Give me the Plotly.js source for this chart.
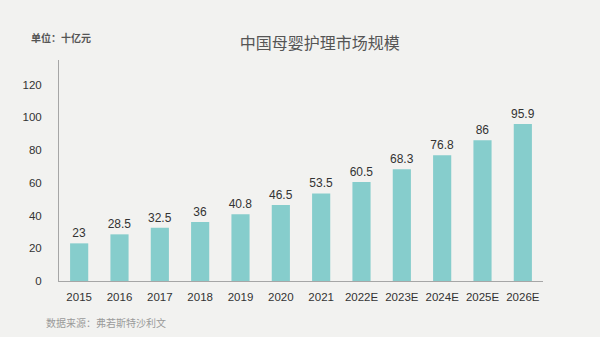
<!DOCTYPE html>
<html>
<head>
<meta charset="utf-8">
<script src="https://cdn.plot.ly/plotly-3.0.1.min.js"></script>
<style>html,body{margin:0;padding:0;background:#f2f2f0;}#chart{width:600px;height:337px;}</style>
</head>
<body>
<div id="chart"></div>
<script>
const categories = ["2015","2016","2017","2018","2019","2020","2021","2022E","2023E","2024E","2025E","2026E"];
const values = [23, 28.5, 32.5, 36, 40.8, 46.5, 53.5, 60.5, 68.3, 76.8, 86, 95.9];
const yTicks = [0, 20, 40, 60, 80, 100, 120];

const font = "'Microsoft YaHei', 'Noto Sans CJK SC', Arial, sans-serif";

Plotly.newPlot('chart', [{
  type: 'bar',
  x: categories,
  y: values,
  text: values.map(String),
  textposition: 'outside',
  constraintext: 'none',
  cliponaxis: false,
  textfont: {size: 12, color: '#333', family: 'Arial, Liberation Sans, sans-serif'},
  marker: {color: '#86cdcc'},
  hoverinfo: 'none'
}], {
  width: 600, height: 337,
  paper_bgcolor: '#f2f2f0',
  plot_bgcolor: '#f2f2f0',
  margin: {l: 59, r: 57, t: 60, b: 56},
  bargap: 0.55,
  showlegend: false,
  title: {text: '中国母婴护理市场规模', font: {size: 16, color: '#555', family: font}, x: 0.533, xanchor: 'center', y: 0.872, yanchor: 'middle'},
  xaxis: {
    type: 'category',
    showline: true, linecolor: '#a6a6a6', linewidth: 1,
    ticks: '', showgrid: false,
    ticklabelstandoff: 5,
    tickfont: {size: 11.5, color: '#333', family: 'Arial, Liberation Sans, sans-serif'}
  },
  yaxis: {
    range: [0, 135],
    tickvals: yTicks,
    showline: true, linecolor: '#a6a6a6', linewidth: 1,
    ticks: '', showgrid: false, zeroline: false,
    ticklabelstandoff: 14,
    tickfont: {size: 11.5, color: '#333', family: 'Arial, Liberation Sans, sans-serif'}
  },
  annotations: [
    {text: '<b>单位：十亿元</b>', xref: 'paper', yref: 'paper', x: -0.062, xanchor: 'left', y: 1.104, yanchor: 'middle', showarrow: false, font: {size: 10, color: '#555', family: font}},
    {text: '数据来源：弗若斯特沙利文', xref: 'paper', yref: 'paper', x: -0.03, xanchor: 'left', y: -0.186, yanchor: 'middle', showarrow: false, font: {size: 10, color: '#9a9a9a', family: font}}
  ]
}, {staticPlot: true});
</script>
</body>
</html>
